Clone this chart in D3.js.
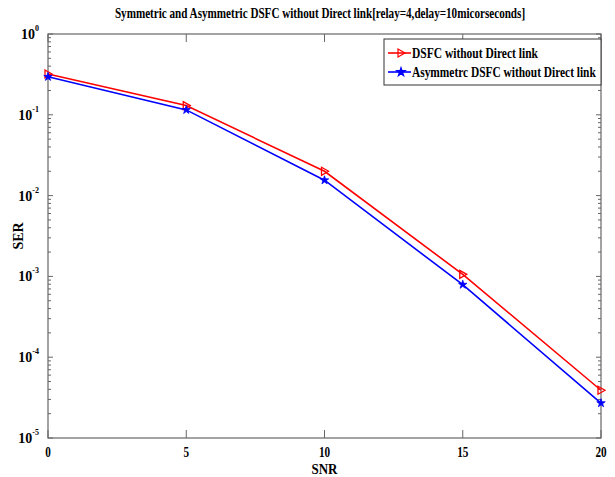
<!DOCTYPE html>
<html>
<head>
<meta charset="utf-8">
<script src="https://cdn.jsdelivr.net/npm/d3@7"></script>
<style>
  body { margin: 0; background: #fff; }
  text { font-family: "Liberation Serif", "Times New Roman", serif; font-weight: bold; }
</style>
</head>
<body>
<script>
// chart values
var snr = [0, 5, 10, 15, 20];
var serSym = [0.32, 0.13, 0.0200, 0.00106, 0.000039];
var serAsym = [0.295, 0.115, 0.0155, 0.00079, 0.000027];
var seriesNames = ["DSFC without Direct link", "Asymmetrc DSFC without Direct link"];
var xTicks = [0, 5, 10, 15, 20];
var yExps = [0, -1, -2, -3, -4, -5];

var W = 615, H = 477;
var margin = {top: 34, right: 14, bottom: 39, left: 48},
    width = W - margin.left - margin.right,
    height = H - margin.top - margin.bottom;

var svg = d3.select("body").append("svg")
  .attr("width", W)
  .attr("height", H);

var g = svg.append("g")
  .attr("transform", "translate(" + margin.left + "," + margin.top + ")");

var x = d3.scaleLinear().domain([0, 20]).range([0, width]);
var y = d3.scaleLog().domain([1e-5, 1]).range([height, 0]);

var axisColor = "#666";

// squeeze a text horizontally to a given width (MATLAB's narrow bold Times)
function squeeze(sel, ax, w) {
  var n = sel.node().getComputedTextLength();
  var k = Math.min(1, w / n);
  sel.attr("transform", "translate(" + ax + ",0) scale(" + k + ",1) translate(" + (-ax) + ",0)");
}

// minor ticks for the log axis
var minor = [];
yExps.slice(0, -1).forEach(function(e) {
  for (var k = 2; k <= 9; k++) minor.push(k * Math.pow(10, e - 1));
});

// box
g.append("rect")
  .attr("width", width).attr("height", height)
  .attr("fill", "none").attr("stroke", axisColor).attr("stroke-width", 1.2);

// x ticks (inward, bottom and top)
xTicks.forEach(function(t) {
  g.append("line").attr("x1", x(t)).attr("x2", x(t)).attr("y1", height).attr("y2", height - 8)
    .attr("stroke", axisColor);
  g.append("line").attr("x1", x(t)).attr("x2", x(t)).attr("y1", 0).attr("y2", 8)
    .attr("stroke", axisColor);
  g.append("text").attr("x", x(t)).attr("y", height + 19)
    .attr("text-anchor", "middle").attr("font-size", 14)
    .attr("transform", "translate(" + x(t) + ",0) scale(0.8,1) translate(" + (-x(t)) + ",0)")
    .text(t);
});

// y ticks (inward, left and right)
yExps.forEach(function(e) {
  var v = Math.pow(10, e);
  g.append("line").attr("x1", 0).attr("x2", 5).attr("y1", y(v)).attr("y2", y(v)).attr("stroke", axisColor);
  g.append("line").attr("x1", width).attr("x2", width - 5).attr("y1", y(v)).attr("y2", y(v)).attr("stroke", axisColor);
  var t = g.append("text").attr("x", -9).attr("y", y(v) + 5)
    .attr("text-anchor", "end").attr("font-size", 14);
  t.append("tspan").text("10");
  t.append("tspan").attr("dy", -8).attr("font-size", 8).text(e);
});
minor.forEach(function(v) {
  g.append("line").attr("x1", 0).attr("x2", 3).attr("y1", y(v)).attr("y2", y(v)).attr("stroke", axisColor);
  g.append("line").attr("x1", width).attr("x2", width - 3).attr("y1", y(v)).attr("y2", y(v)).attr("stroke", axisColor);
});

// lines
var line = d3.line()
  .x(function(d) { return x(d[0]); })
  .y(function(d) { return y(d[1]); });

var symData = snr.map(function(s, i) { return [s, serSym[i]]; });
var asymData = snr.map(function(s, i) { return [s, serAsym[i]]; });

g.append("path").datum(symData).attr("d", line)
  .attr("fill", "none").attr("stroke", "#ff0000").attr("stroke-width", 1.6);
g.append("path").datum(asymData).attr("d", line)
  .attr("fill", "none").attr("stroke", "#0000ff").attr("stroke-width", 1.6);

var triRight = "M-3,-4L4,0L-3,4Z";
var star = d3.symbol().type(d3.symbolStar).size(22)();

g.selectAll(".mk1").data(symData).enter().append("path")
  .attr("transform", function(d) { return "translate(" + x(d[0]) + "," + y(d[1]) + ")"; })
  .attr("d", triRight).attr("fill", "none").attr("stroke", "#ff0000").attr("stroke-width", 1.3);
g.selectAll(".mk2").data(asymData).enter().append("path")
  .attr("transform", function(d) { return "translate(" + x(d[0]) + "," + y(d[1]) + ")"; })
  .attr("d", star).attr("fill", "#0000ff").attr("stroke", "#0000ff").attr("stroke-width", 0.8);

// legend
var lg = svg.append("g").attr("transform", "translate(384,39)");
lg.append("rect").attr("width", 217).attr("height", 46)
  .attr("fill", "#fff").attr("stroke", "#333").attr("stroke-width", 1);
var legendLen = [126, 184];
[["#ff0000", triRight, "none"], ["#0000ff", star, "#0000ff"]].forEach(function(s, i) {
  var yy = 14 + i * 19;
  lg.append("line").attr("x1", 4).attr("x2", 27).attr("y1", yy).attr("y2", yy)
    .attr("stroke", s[0]).attr("stroke-width", 1.6);
  lg.append("path").attr("transform", "translate(17," + yy + ")").attr("d", s[1])
    .attr("fill", s[2]).attr("stroke", s[0]).attr("stroke-width", 1.2);
  var lt = lg.append("text").attr("x", 28).attr("y", yy + 5).attr("font-size", 15)
    .text(seriesNames[i]);
  squeeze(lt, 28, legendLen[i]);
});

// title & axis labels
var title = svg.append("text").attr("x", 320).attr("y", 18)
  .attr("text-anchor", "middle").attr("font-size", 14)
  .text("Symmetric and Asymmetric DSFC without Direct link[relay=4,delay=10micorseconds]");
squeeze(title, 320, 411);
var xl = svg.append("text").attr("x", margin.left + width / 2).attr("y", 474)
  .attr("text-anchor", "middle").attr("font-size", 14).text("SNR");
squeeze(xl, margin.left + width / 2, 26);
svg.append("text").attr("transform", "translate(23," + (margin.top + height / 2) + ") rotate(-90)")
  .attr("text-anchor", "middle").attr("font-size", 14).text("SER");
</script>
</body>
</html>
